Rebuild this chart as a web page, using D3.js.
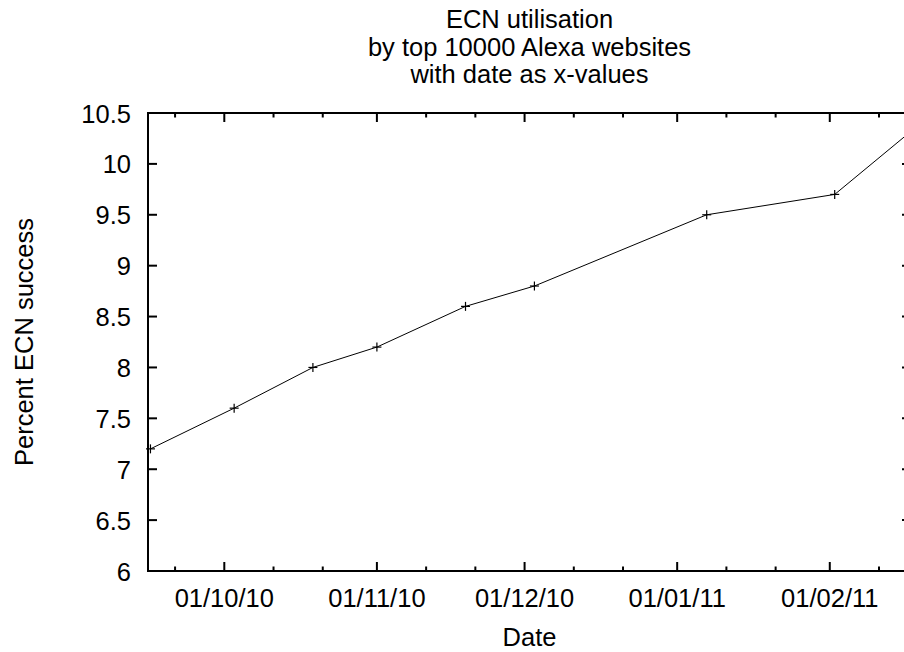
<!DOCTYPE html>
<html>
<head>
<meta charset="utf-8">
<script src="https://cdn.jsdelivr.net/npm/d3@7"></script>
<style>
  html, body { margin: 0; padding: 0; background: #fff; }
  svg { display: block; }
  text { font-family: "Liberation Sans", Arial, Helvetica, sans-serif; fill: #000; }
</style>
</head>
<body>
<svg id="chart" width="904" height="652"></svg>
<script>
// Measurement dates and ECN success rate (%)
const dates = ["2010-09-16", "2010-10-03", "2010-10-19", "2010-11-01", "2010-11-19",
               "2010-12-03", "2011-01-07", "2011-02-02", "2011-02-17"];
const percents = [7.2, 7.6, 8.0, 8.2, 8.6, 8.8, 9.5, 9.7, 10.3];

// Axis settings
const yTicks = [6, 6.5, 7, 7.5, 8, 8.5, 9, 9.5, 10, 10.5];
const xStart = "2010-09-15T12:00";
const xEnd = "2011-02-17T12:00";
const titleLines = ["ECN utilisation", "by top 10000 Alexa websites", "with date as x-values"];
const xLabel = "Date";
const yLabel = "Percent ECN success";

const parseDay = d3.timeParse("%Y-%m-%d");
const parseStamp = d3.timeParse("%Y-%m-%dT%H:%M");
const points = dates.map((d, i) => ({ date: parseDay(d), value: percents[i] }));

const svg = d3.select("#chart");
const plotL = 148, plotR = 911, plotT = 113, plotB = 571;
const fontSize = 25.5;

const x = d3.scaleTime().domain([parseStamp(xStart), parseStamp(xEnd)]).range([plotL, plotR]);
const y = d3.scaleLinear().domain([6, 10.5]).range([plotB, plotT]);

const majorLen = 9, minorLen = 4.5;
const fmt = d3.timeFormat("%d/%m/%y");

// Month ticks (labelled) and 10-day minor ticks
const majors = d3.timeMonth.range(x.domain()[0], x.domain()[1]);
const minors = d3.timeDay.range(x.domain()[0], x.domain()[1])
  .filter(d => d.getDate() === 11 || d.getDate() === 21);

const tickG = svg.append("g").attr("stroke", "#000").attr("stroke-width", 2);

// bottom and top x ticks
majors.forEach(d => {
  const px = x(d);
  tickG.append("line").attr("x1", px).attr("x2", px).attr("y1", plotB).attr("y2", plotB - majorLen);
  tickG.append("line").attr("x1", px).attr("x2", px).attr("y1", plotT).attr("y2", plotT + majorLen);
});
minors.forEach(d => {
  const px = x(d);
  tickG.append("line").attr("x1", px).attr("x2", px).attr("y1", plotB).attr("y2", plotB - minorLen);
  tickG.append("line").attr("x1", px).attr("x2", px).attr("y1", plotT).attr("y2", plotT + minorLen);
});

// left and right y ticks
yTicks.forEach(v => {
  const py = y(v);
  tickG.append("line").attr("x1", plotL).attr("x2", plotL + majorLen).attr("y1", py).attr("y2", py);
  tickG.append("line").attr("x1", plotR).attr("x2", plotR - majorLen).attr("y1", py).attr("y2", py);
});

// x tick labels
svg.append("g").selectAll("text").data(majors).join("text")
  .attr("x", d => x(d))
  .attr("y", 607)
  .attr("text-anchor", "middle")
  .attr("font-size", fontSize)
  .text(d => fmt(d));

// y tick labels
svg.append("g").selectAll("text").data(yTicks).join("text")
  .attr("x", 131)
  .attr("y", d => y(d) + 9.5)
  .attr("text-anchor", "end")
  .attr("font-size", fontSize)
  .text(d => d3.format("")(d));

// data line
const line = d3.line().x(d => x(d.date)).y(d => y(d.value));
svg.append("path")
  .datum(points)
  .attr("fill", "none")
  .attr("stroke", "#000")
  .attr("stroke-width", 1)
  .attr("d", line);

// point markers (+)
const ms = 4.5;
const markG = svg.append("g").attr("stroke", "#000").attr("stroke-width", 1.2);
points.forEach(p => {
  const px = x(p.date), py = y(p.value);
  markG.append("line").attr("x1", px - ms).attr("x2", px + ms).attr("y1", py).attr("y2", py);
  markG.append("line").attr("x1", px).attr("x2", px).attr("y1", py - ms).attr("y2", py + ms);
});

// plot border
svg.append("rect")
  .attr("x", plotL).attr("y", plotT)
  .attr("width", plotR - plotL).attr("height", plotB - plotT)
  .attr("fill", "none").attr("stroke", "#000").attr("stroke-width", 2);

// title
const cx = (plotL + plotR) / 2;
svg.append("g").selectAll("text").data(titleLines).join("text")
  .attr("x", cx)
  .attr("y", (d, i) => 28 + i * 27.5)
  .attr("text-anchor", "middle")
  .attr("font-size", fontSize)
  .text(d => d);

// axis labels
svg.append("text")
  .attr("x", cx).attr("y", 646)
  .attr("text-anchor", "middle")
  .attr("font-size", fontSize)
  .text(xLabel);

svg.append("text")
  .attr("transform", `translate(33, ${(plotT + plotB) / 2}) rotate(-90)`)
  .attr("text-anchor", "middle")
  .attr("font-size", fontSize)
  .text(yLabel);
</script>
</body>
</html>
